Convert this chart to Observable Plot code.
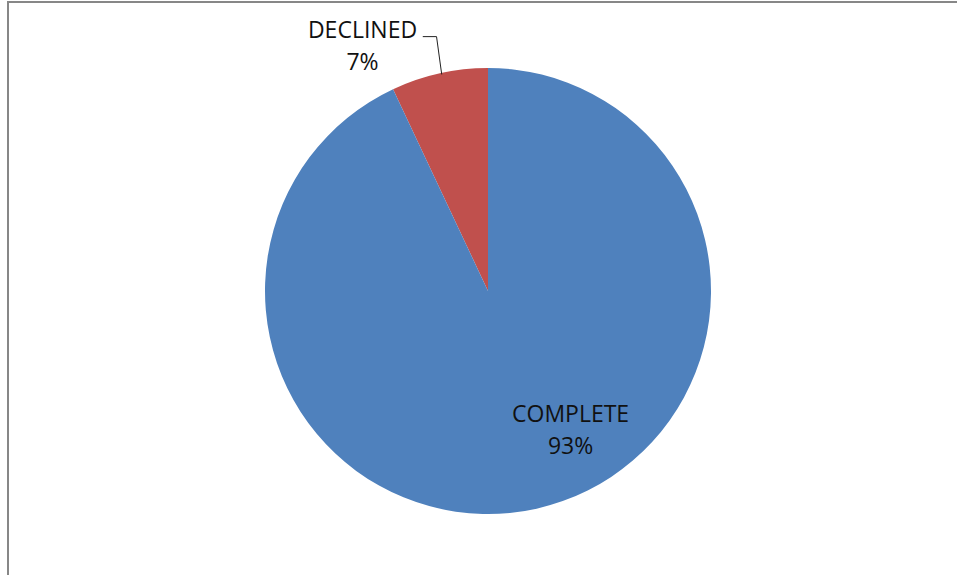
<!DOCTYPE html>
<html>
<head>
<meta charset="utf-8">
<script src="https://cdn.jsdelivr.net/npm/d3@7"></script>
<script src="https://cdn.jsdelivr.net/npm/@observablehq/plot@0.6"></script>
<style>
  html, body { margin: 0; padding: 0; background: #fff; }
  #wrap { position: relative; width: 957px; height: 575px; overflow: hidden; }
  #frame { position: absolute; left: 7px; top: 1px; width: 960px; height: 600px;
           border-left: 2px solid #878787; border-top: 2px solid #878787; }
  #wrap svg { position: absolute; left: 0; top: 0; }
</style>
</head>
<body>
<div id="wrap"><div id="frame"></div></div>
<script>
// Data
const categories = ["DECLINED", "COMPLETE"];
const values = [7, 93];
const percentLabels = ["7%", "93%"];
const colors = ["#C0504D", "#4F81BD"];

// Layout (in radius units, pie centred at 0,0)
const W = 957, H = 575, R = 223, cx = 488, cy = 291;
const labelPos = [
  { x: -0.565, y: 1.112 },   // DECLINED
  { x: 0.368, y: -0.61 }     // COMPLETE
];
const leader = [ {x: -0.293, y: 1.143}, {x: -0.233, y: 1.143}, {x: -0.21, y: 0.975} ];

const pie = d3.pie().sort(null).value(d => d.value);
const table = categories.map((c, i) => ({ category: c, value: values[i], pct: percentLabels[i], color: colors[i], ...labelPos[i] }));
const arcs = pie(table);

const slices = (index, scales, vals, dims) => {
  const x0 = scales.x(0), y0 = scales.y(0);
  const r = scales.x(1) - scales.x(0);
  const arc = d3.arc().innerRadius(0).outerRadius(r);
  const g = d3.create("svg:g").attr("transform", `translate(${x0},${y0})`);
  // counter-clockwise from the top: first slice goes to the left
  g.selectAll("path").data(arcs).join("path")
    .attr("d", d => arc({ startAngle: -d.startAngle, endAngle: -d.endAngle }))
    .attr("fill", d => d.data.color);
  return g.node();
};

const chart = Plot.plot({
  width: W, height: H,
  margin: 0,
  x: { domain: [-cx / R, (W - cx) / R], axis: null },
  y: { domain: [-(H - cy) / R, cy / R], axis: null },
  marks: [
    slices,
    Plot.line(leader, { x: "x", y: "y", stroke: "#222", strokeWidth: 1 }),
    Plot.text(table, { x: "x", y: "y", text: d => d.category + "\n" + d.pct,
      lineHeight: 32 / 23, fontSize: 23, fill: "#111", textAnchor: "middle" })
  ],
  style: { fontFamily: "'Open Sans', sans-serif", background: "transparent" }
});
document.getElementById("wrap").appendChild(chart);
</script>
</body>
</html>
